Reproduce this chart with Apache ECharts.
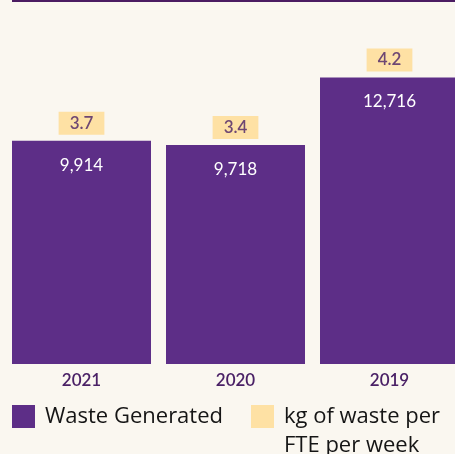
<!DOCTYPE html>
<html>
<head>
<meta charset="utf-8">
<style>
  html, body { margin: 0; padding: 0; background: #faf7f0; }
  #chart { width: 455px; height: 454px; }
</style>
<script src="https://cdn.jsdelivr.net/npm/echarts@6/dist/echarts.min.js"></script>
</head>
<body>
<div id="chart"></div>
<script>
// Yearly waste figures
const years = ['2021', '2020', '2019'];
const wasteGenerated = [9914, 9718, 12716];
const kgPerFtePerWeek = [3.7, 3.4, 4.2];

const PURPLE = '#5d2e87';
const YELLOW = '#ffdb91';
const DARK_PURPLE = '#4a2166';
const FONT = 'Lato, "DejaVu Sans", sans-serif';
const LEGEND_FONT = '"Open Sans", Lato, sans-serif';

const chart = echarts.init(document.getElementById('chart'));

chart.setOption({
  backgroundColor: '#faf7f0',
  animation: false,
  graphic: [{
    type: 'rect',
    shape: { x: 12, y: 0, width: 443, height: 2 },
    style: { fill: '#4b1c62' }
  }],
  grid: {
    left: 4.5, width: 462, top: 3.5, height: 360.5,
    outerBoundsMode: 'none', containLabel: false
  },
  xAxis: {
    type: 'category',
    data: years,
    axisLine: { show: false },
    axisTick: { show: false },
    axisLabel: {
      color: DARK_PURPLE,
      fontFamily: FONT,
      fontSize: 17,
      fontWeight: 600,
      lineHeight: 17,
      margin: 8
    }
  },
  yAxis: {
    type: 'value',
    min: 0,
    max: 16000,
    show: false,
    splitLine: { show: false }
  },
  legend: [{
    left: 12,
    top: 405,
    padding: 0,
    icon: 'rect',
    itemWidth: 23,
    itemHeight: 23,
    data: ['Waste Generated'],
    textStyle: {
      color: '#151515',
      fontFamily: LEGEND_FONT,
      fontSize: 22,
      padding: [0, 0, 0, 5]
    }
  }, {
    left: 251,
    top: 405 - 32,
    padding: 0,
    icon: 'rect',
    itemWidth: 23,
    itemHeight: 23,
    data: ['kg of waste per FTE per week'],
    // blank first line keeps "kg of waste per" level with the swatch
    formatter: () => '\nkg of waste per\nFTE per week',
    textStyle: {
      color: '#151515',
      fontFamily: LEGEND_FONT,
      fontSize: 22,
      lineHeight: 29,
      padding: [0, 0, 0, 5]
    }
  }],
  series: [{
    name: 'Waste Generated',
    type: 'bar',
    data: wasteGenerated,
    barWidth: 139,
    itemStyle: { color: PURPLE },
    label: {
      show: true,
      position: 'insideTop',
      distance: 16,
      color: '#ffffff',
      fontFamily: FONT,
      fontSize: 17,
      lineHeight: 17,
      formatter: p => p.value.toLocaleString('en-US')
    }
  }, {
    name: 'kg of waste per FTE per week',
    type: 'scatter',
    data: wasteGenerated,
    symbol: 'rect',
    symbolSize: 0,
    itemStyle: { color: YELLOW },
    label: {
      show: true,
      position: 'top',
      distance: 6,
      color: DARK_PURPLE,
      fontFamily: FONT,
      fontSize: 17,
      fontWeight: 600,
      lineHeight: 17,
      backgroundColor: YELLOW,
      padding: [3, 11, 3, 11],
      formatter: p => kgPerFtePerWeek[p.dataIndex].toFixed(1)
    }
  }]
});
</script>
</body>
</html>
